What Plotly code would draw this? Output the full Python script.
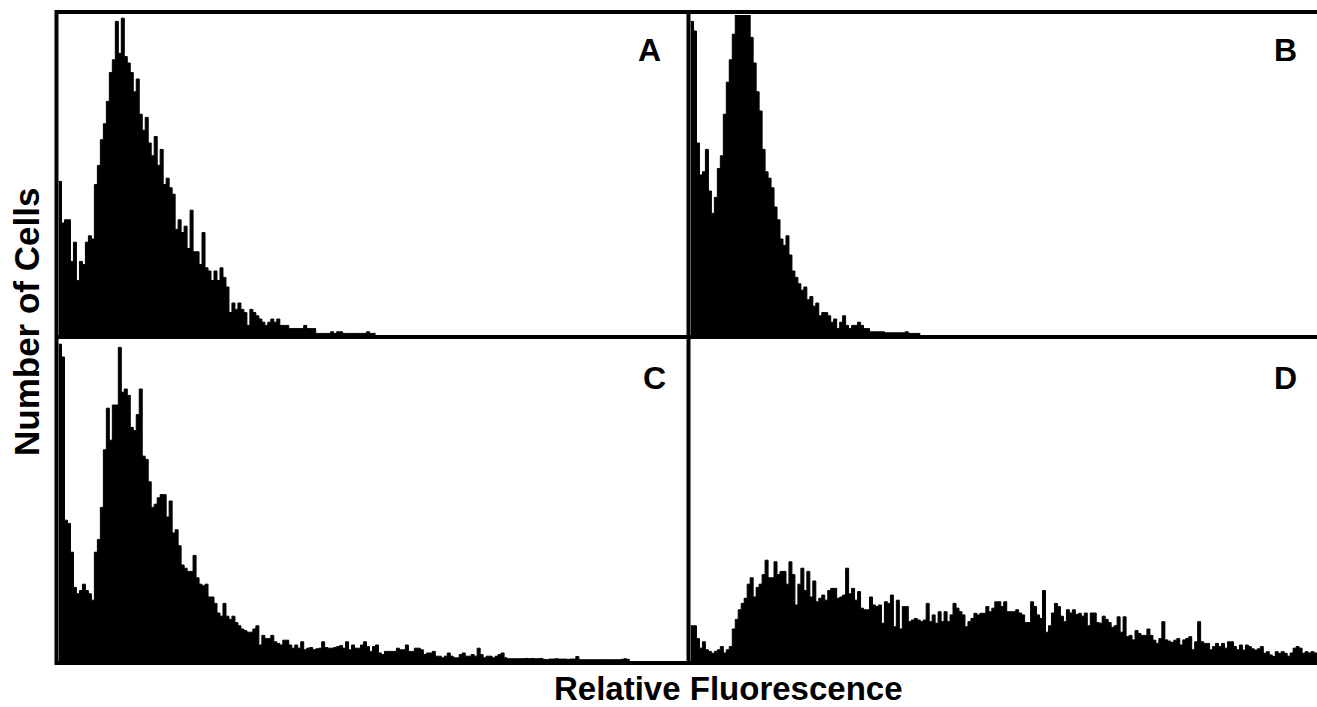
import plotly.graph_objects as go

# ---------------- data (relative cell counts, % of full scale, per fluorescence channel) -------------
panel_labels = ["A", "B", "C", "D"]

counts_a = [48, 35, 36, 36, 23, 29, 17, 23, 22, 29,
            31, 30, 47, 53, 61, 66, 73, 82, 86, 98,
            88, 99, 87, 85, 82, 76, 80, 69, 64, 68,
            60, 56, 62, 53, 58, 47, 49, 46, 44, 33,
            36, 32, 34, 27, 39, 26, 26, 22, 32, 21,
            20, 17, 20, 17, 21, 18, 15, 7, 10, 8,
            10, 8, 7, 3, 8, 7, 6, 5, 4, 3,
            4, 5, 4, 5, 3, 3, 3, 2, 2, 2,
            2, 2, 3, 2, 2, 2, 0.5, 0.5, 0.5, 0.5,
            0.5, 1, 0.5, 1, 1, 0.5, 0.5, 0.5, 0.5, 0.5,
            0.5, 0.5, 0.5, 1, 0.5, 0.5]

counts_b = [98, 95, 60, 50, 51, 58, 45, 38, 43, 52,
            56, 69, 79, 86, 94, 100, 100, 100, 100, 100,
            93, 85, 76, 70, 58, 51, 49, 46, 40, 36,
            30, 28, 31, 25, 20, 18, 16, 14, 15, 11,
            12, 9, 10, 6, 7, 7, 6, 4, 5, 2,
            4, 6, 3, 2, 3, 3, 4, 3, 2, 2,
            1, 1, 1, 1, 1, 0.7, 0.7, 0.7, 0.7, 0.7,
            0.7, 0.7, 1, 0.5, 0.5, 0.5, 0.5]

counts_c = [99, 95, 44, 43, 34, 23, 21, 22, 24, 22,
            21, 19, 34, 38, 48, 66, 79, 69, 80, 80,
            98, 84, 85, 83, 73, 72, 77, 85, 64, 63,
            56, 48, 49, 51, 52, 52, 45, 50, 40, 41,
            36, 30, 29, 28, 28, 33, 26, 24, 23.5, 24,
            20, 20, 18, 15, 14, 18, 14, 13, 14, 12,
            11, 10, 9.5, 9, 9, 10, 11, 5, 8, 7,
            7, 8, 6, 5.5, 5, 6.5, 6.5, 5, 4, 5,
            4, 6, 3.5, 4, 4.2, 3.5, 3.8, 4, 6, 4.2,
            4, 4, 4.2, 4.5, 4.8, 4, 6, 3.5, 5, 4,
            4, 5, 6, 4.5, 3, 4.5, 5, 2.5, 2, 3,
            3, 3, 3, 4, 3.5, 3.5, 5, 3, 3, 4,
            4, 3.5, 2, 2.5, 2.5, 3, 1.5, 1.5, 1, 1.5,
            2.5, 1.5, 1, 1, 2, 2.5, 1.5, 1.5, 2, 1.5,
            4, 2, 1, 1.5, 1.5, 1, 1.5, 2, 2.5, 1,
            0.7, 0.7, 0.7, 0.7, 0.7, 0.7, 0.8, 0.7, 0.8, 0.7,
            0.7, 0.8, 0.5, 0.4, 0.6, 0.6, 0.7, 0.6, 0.6, 0.6,
            0.5, 0.6, 0.6, 1.4, 0.4, 0.4, 0.4, 0.4, 0.4, 0.4,
            0.4, 0.4, 0.4, 0.4, 0.4, 0.4, 0.4, 0.4, 0.5, 0.7,
            0.5]

counts_d = [11, 11, 7, 4, 6, 3.5, 3, 2.4, 3, 3.5,
            4.5, 2.5, 3.5, 4.5, 10, 13, 16, 18, 19.6, 24,
            26, 20, 23, 24, 27, 31.5, 26, 26, 31, 27,
            28, 28, 24, 31, 27, 17.5, 24, 29, 22, 28,
            20, 25, 18.5, 19.6, 20.6, 19, 22, 22.7, 22.7, 19.6,
            20, 20.6, 29, 21, 22.7, 19, 21.7, 16.5, 16, 16,
            20, 17.5, 17, 17.5, 11.8, 18.5, 18, 20.6, 10.7, 19,
            10, 17, 17, 12.3, 12.8, 13.3, 12.8, 12.3, 12.8, 18,
            12.3, 14.4, 11.8, 15.4, 12.3, 15.4, 12.3, 14.4, 18, 16.5,
            15.4, 14.4, 10.7, 12.3, 13.3, 14.9, 14.4, 14.9, 14.9, 17,
            15.4, 16.5, 18.5, 18.5, 17, 18.5, 15.4, 15.4, 15.4, 16,
            15, 14.4, 12, 12, 18.5, 17, 14.4, 13.3, 22, 9,
            11, 15, 18, 17, 14, 12.3, 16, 15, 16, 14.5,
            14.9, 14, 15, 11, 15, 15, 12, 11.8, 14, 13,
            12, 10.5, 11, 13.8, 9, 13.8, 7.6, 8, 6.6, 9.5,
            8.6, 8, 8, 10, 8, 6.5, 5.5, 7, 12.3, 6.6,
            6.2, 5.8, 6.5, 7, 5, 6.6, 7, 7.6, 3.5, 6,
            12.3, 6, 5.5, 5.5, 3.5, 4.5, 5.5, 4.5, 5.5, 4,
            6, 6, 4.5, 3.5, 5, 3.4, 5, 4.5, 3.8, 3.4,
            3.8, 4.5, 2.4, 2.9, 1.9, 1.4, 2.9, 2.4, 2.9, 2.4,
            1.5, 2.5, 4, 4.5, 4, 2.4, 2.9, 2.5, 2.9, 2.5]

n_channels = 210
x_title = "Relative Fluorescence"
y_title = "Number of Cells"

# ---------------- layout geometry (pixels) ----------------
W, H = 1317, 707


def px_x(p):
    return p / W


def px_y(p):
    return 1 - p / H


left_dom = [px_x(58.5), px_x(686.5)]
right_dom = [px_x(690.5), 1.0]
top_dom = [px_y(335), px_y(15)]
bot_dom = [px_y(661), px_y(341)]

panels = [
    (counts_a, "x", "y", left_dom, top_dom),
    (counts_b, "x2", "y2", right_dom, top_dom),
    (counts_c, "x3", "y3", left_dom, bot_dom),
    (counts_d, "x4", "y4", right_dom, bot_dom),
]

fig = go.Figure()
layout_axes = {}
for k, (vals, xa, ya, xd, yd) in enumerate(panels):
    # histogram drawn as a filled step outline: each channel spans [i, i+1]
    edges = list(range(len(vals) + 1))
    fig.add_trace(go.Scatter(
        x=edges,
        y=list(vals) + [vals[-1]],
        mode="lines",
        line=dict(shape="hv", color="black", width=1),
        fill="tozeroy",
        fillcolor="black",
        xaxis=xa, yaxis=ya,
        showlegend=False,
        hoverinfo="skip",
    ))
    xname = "xaxis" if xa == "x" else "xaxis" + xa[1:]
    yname = "yaxis" if ya == "y" else "yaxis" + ya[1:]
    layout_axes[xname] = dict(domain=xd, range=[0, n_channels], visible=False,
                              anchor=ya, fixedrange=True)
    layout_axes[yname] = dict(domain=yd, range=[0, 100], visible=False,
                              anchor=xa, fixedrange=True)

# frame lines
frame = dict(color="black", width=4)
shapes = [
    dict(type="line", xref="paper", yref="paper", x0=px_x(55), x1=1.0, y0=px_y(12), y1=px_y(12), line=frame),
    dict(type="line", xref="paper", yref="paper", x0=px_x(55), x1=1.0, y0=px_y(337), y1=px_y(337), line=frame),
    dict(type="line", xref="paper", yref="paper", x0=px_x(55), x1=1.0, y0=px_y(663), y1=px_y(663), line=frame),
    dict(type="line", xref="paper", yref="paper", x0=px_x(56.5), x1=px_x(56.5), y0=px_y(665), y1=px_y(10), line=frame),
    dict(type="line", xref="paper", yref="paper", x0=px_x(688.5), x1=px_x(688.5), y0=px_y(665), y1=px_y(10), line=frame),
]

font_family = "Liberation Sans, Arial, Helvetica, sans-serif"
label_pos = [(649, 50), (1285, 50), (654, 378), (1285, 378)]
annotations = []
for lab, (lx, ly) in zip(panel_labels, label_pos):
    annotations.append(dict(text="<b>%s</b>" % lab, x=px_x(lx), y=px_y(ly), xref="paper", yref="paper",
                            showarrow=False, xanchor="center", yanchor="middle",
                            font=dict(family=font_family, size=32, color="black")))
annotations.append(dict(text="<b>%s</b>" % x_title, x=px_x(728), y=px_y(688), xref="paper", yref="paper",
                        showarrow=False, xanchor="center", yanchor="middle",
                        font=dict(family=font_family, size=33, color="black")))
annotations.append(dict(text="<b>%s</b>" % y_title, x=px_x(26), y=px_y(322), xref="paper", yref="paper",
                        showarrow=False, xanchor="center", yanchor="middle", textangle=-90,
                        font=dict(family=font_family, size=35, color="black")))

fig.update_layout(
    width=W, height=H,
    margin=dict(l=0, r=0, t=0, b=0),
    paper_bgcolor="white", plot_bgcolor="white",
    shapes=shapes, annotations=annotations,
    **layout_axes,
)

fig.write_html(
    "out.html",
    config={"displayModeBar": False},
    post_script="document.body.style.margin='0px';document.body.style.padding='0px';"
                "document.body.style.overflow='hidden';",
)
